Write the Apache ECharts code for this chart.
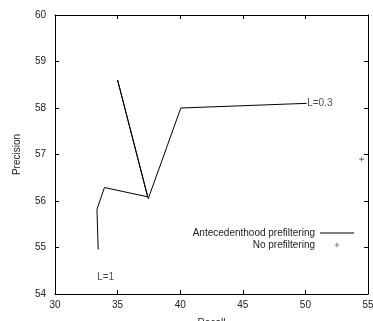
<!DOCTYPE html>
<html><head><meta charset="utf-8">
<script src="https://cdn.jsdelivr.net/npm/echarts@6/dist/echarts.min.js"></script>
<style>html,body{margin:0;padding:0;background:#fff}#c{width:373px;height:321px}</style>
</head><body><div id="c"></div>
<script>
const recallAnte = [33.45, 33.35, 33.95, 37.4, 35.0, 37.45, 40.05, 50.1];
const precisionAnte = [54.96, 55.82, 56.29, 56.09, 58.6, 56.05, 58.0, 58.1];
const recallNo = [54.5];
const precisionNo = [56.9];
const lLabels = ['L=1', 'L=0.3'];
const xTicks = [30, 35, 40, 45, 50, 55];
const yTicks = [54, 55, 56, 57, 58, 59, 60];

const FONT = "'Liberation Sans', Arial, sans-serif";
const chart = echarts.init(document.getElementById('c'));
const antePts = recallAnte.map((x, i) => [x, precisionAnte[i]]);
const noPts = recallNo.map((x, i) => [x, precisionNo[i]]);
const labelPts = [
  {value: antePts[0], label: {formatter: lLabels[0], position: 'bottom', distance: 22, align: 'left', offset: [-1, 0]}},
  {value: antePts[antePts.length - 1], label: {formatter: lLabels[1], position: 'right', distance: 0}}
];
const plus = 'path://M-1,-0.12 H1 V0.12 H-1 Z M-0.12,-1 H0.12 V1 H-0.12 Z';
const plusLegend = 'path://M-1.8,-1.8 L-1.8,-1.8 Z M1.8,1.8 L1.8,1.8 Z M-1,-0.12 H1 V0.12 H-1 Z M-0.12,-1 H0.12 V1 H-0.12 Z';
const lineIcon = 'path://M0,0 H33 V1 H0 Z';
const tick = {show: true, inside: true, length: 4, lineStyle: {color: '#000', width: 1}};
const line = {show: true, lineStyle: {color: '#000', width: 1}};
chart.setOption({
  animation: false,
  textStyle: {fontFamily: FONT},
  grid: {left: 55, right: 5, top: 15, bottom: 27, containLabel: false, outerBoundsMode: 'none'},
  xAxis: [
    {type: 'value', min: xTicks[0], max: xTicks[xTicks.length - 1], interval: 5,
     name: 'Recall', nameLocation: 'middle', nameGap: 24,
     nameTextStyle: {fontSize: 10, color: '#222', fontFamily: FONT},
     axisLine: line, axisTick: tick, splitLine: {show: false},
     axisLabel: {fontSize: 10, color: '#222', margin: 6, fontFamily: FONT}},
    {type: 'value', position: 'top', min: xTicks[0], max: xTicks[xTicks.length - 1], interval: 5,
     axisLine: line, axisTick: tick, splitLine: {show: false}, axisLabel: {show: false}}
  ],
  yAxis: [
    {type: 'value', min: yTicks[0], max: yTicks[yTicks.length - 1], interval: 1,
     name: 'Precision', nameLocation: 'middle', nameGap: 33, nameRotate: 90,
     nameTextStyle: {fontSize: 10, color: '#222', fontFamily: FONT},
     axisLine: line, axisTick: tick, splitLine: {show: false},
     axisLabel: {fontSize: 10, color: '#222', margin: 9, fontFamily: FONT}},
    {type: 'value', position: 'right', min: yTicks[0], max: yTicks[yTicks.length - 1], interval: 1,
     axisLine: line, axisTick: tick, splitLine: {show: false}, axisLabel: {show: false}}
  ],
  legend: {
    orient: 'vertical', align: 'right', right: 14, top: 223, itemGap: 2,
    itemWidth: 34, itemHeight: 9,
    textStyle: {fontSize: 10, color: '#222', fontFamily: FONT},
    data: [
      {name: 'Antecedenthood prefiltering', icon: lineIcon},
      {name: 'No prefiltering', icon: plusLegend}
    ]
  },
  series: [
    {name: 'Antecedenthood prefiltering', type: 'line', data: antePts, symbol: 'none',
     lineStyle: {color: '#000', width: 1}, itemStyle: {color: '#000'}},
    {name: 'No prefiltering', type: 'scatter', data: noPts, symbol: plus, symbolSize: 5,
     itemStyle: {color: '#000'}},
    {name: 'labels', type: 'scatter', data: labelPts, symbolSize: 1,
     itemStyle: {color: 'rgba(0,0,0,0)'},
     label: {show: true, fontSize: 10, color: '#222', fontFamily: FONT}}
  ]
});
</script>
</body></html>
